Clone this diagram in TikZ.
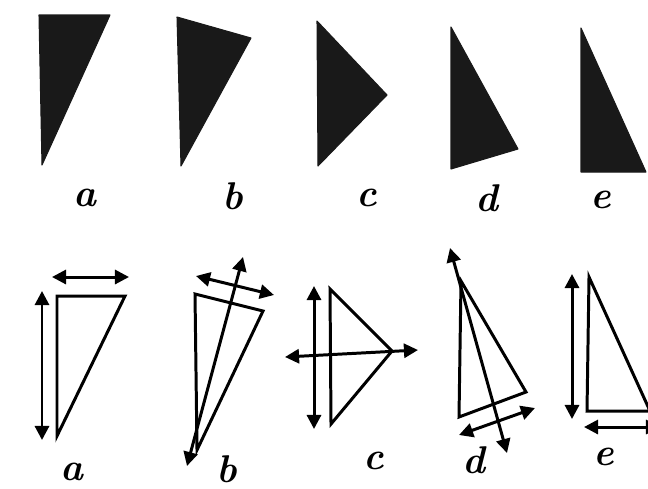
\documentclass[tikz,border=0pt]{standalone}
\usetikzlibrary{arrows.meta}
\begin{document}
\begin{tikzpicture}[
  x=0.02cm, y=-0.02cm,
  solid tri/.style={fill=black!90, draw=black!90, line width=0.6pt, line join=round},
  open tri/.style={draw, line width=1.7pt, line join=miter},
  twoway/.style={{Triangle[length=8pt,width=8pt]}-{Triangle[length=8pt,width=8pt]}, line width=1.7pt},
  letter/.style={font=\fontsize{22}{26}\selectfont\bfseries\itshape}
]
\useasboundingbox (0,0) rectangle (648,488);

% top row: filled triangles
\fill[solid tri] (39,15) -- (110,15) -- (42,165) -- cycle;
\fill[solid tri] (177,17) -- (251,38) -- (181,166) -- cycle;
\fill[solid tri] (317,21) -- (387,95) -- (318,166) -- cycle;
\fill[solid tri] (451,27) -- (518,149) -- (451,169) -- cycle;
\fill[solid tri] (581,28) -- (646,172) -- (581,172) -- cycle;

\node[letter] (topA) at (85,198) {a};
\node[letter] (topB) at (233,196) {b};
\node[letter] (topC) at (367,198) {c};
\node[letter] (topD) at (487,198) {d};
\node[letter] (topE) at (601,200) {e};

% bottom row: outlines with their moves
% a
\draw[open tri] (57,296) -- (125,296) -- (57,436) -- cycle;
\coordinate (aUp) at (42,291);
\coordinate (aDown) at (42,440);
\coordinate (aLeft) at (52,277);
\coordinate (aRight) at (129,277);
\draw[twoway] (aUp) -- (aDown);
\draw[twoway] (aLeft) -- (aRight);

% b
\draw[open tri] (195,294) -- (263,311) -- (197,450) -- cycle;
\coordinate (bTip) at (243,257);
\coordinate (bFoot) at (187,466);
\coordinate (bLeft) at (196,276);
\coordinate (bRight) at (274,295);
\draw[twoway] (bFoot) -- (bTip);
\draw[twoway] (bLeft) -- (bRight);

% c
\draw[open tri] (330,289) -- (392,351) -- (331,424) -- cycle;
\coordinate (cUp) at (314,286);
\coordinate (cDown) at (314,429);
\coordinate (cLeft) at (285,357);
\coordinate (cRight) at (418,350);
\draw[twoway] (cUp) -- (cDown);
\draw[twoway] (cLeft) -- (cRight);

% d
\draw[open tri] (461,281) -- (526,392) -- (459,417) -- cycle;
\coordinate (dTip) at (450,248);
\coordinate (dFoot) at (507,453);
\coordinate (dLeft) at (459,435);
\coordinate (dRight) at (535,408);
\draw[twoway] (dFoot) -- (dTip);
\draw[twoway] (dLeft) -- (dRight);

% e
\draw[open tri] (589,277) -- (650,411) -- (587,411) -- cycle;
\coordinate (eUp) at (572,274);
\coordinate (eDown) at (572,419);
\coordinate (eLeft) at (584,427);
\coordinate (eRight) at (660,427);
\draw[twoway] (eUp) -- (eDown);
\draw[twoway] (eLeft) -- (eRight);

\node[letter] (botA) at (72,472) {a};
\node[letter] (botB) at (227,469) {b};
\node[letter] (botC) at (374,461) {c};
\node[letter] (botD) at (474,460) {d};
\node[letter] (botE) at (604,457) {e};
\end{tikzpicture}
\end{document}
